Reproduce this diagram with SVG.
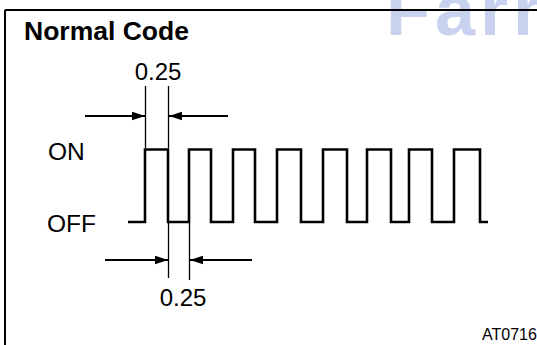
<svg xmlns="http://www.w3.org/2000/svg" width="537" height="345" viewBox="0 0 537 345">
<defs>
<marker id="ah" viewBox="0 0 12 8" refX="12" refY="4" markerWidth="13" markerHeight="9" markerUnits="userSpaceOnUse" orient="auto">
<path d="M0,0 L12,4 L0,8 Z" fill="#000"/>
</marker>
</defs>
<style>
.t{font-family:"Liberation Sans",Arial,sans-serif;fill:#000}
.dim{stroke:#000;stroke-width:1.3;fill:none}
.arr{stroke:#000;stroke-width:1.8;fill:none}
.wave{stroke:#000;stroke-width:2.6;fill:none;stroke-linejoin:miter}
</style>
<rect width="537" height="345" fill="#fff"/>
<text x="386" y="35" font-family="Liberation Sans,Arial,sans-serif" font-weight="bold" font-size="72" letter-spacing="5" fill="#c8d2ee">Farr</text>
<g id="frame">
<path d="M5,10 H537 M5,10 V345" stroke="#000" stroke-width="2" fill="none"/>
</g>
<g id="title"><text class="t" x="24" y="40" font-size="26.5" font-weight="bold">Normal Code</text></g>
<g id="on-label"><text class="t" x="48" y="160" font-size="24.5">ON</text></g>
<g id="off-label"><text class="t" x="47" y="232" font-size="24.5">OFF</text></g>
<g id="waveform">
<path class="wave" d="M128,222 H145 V149.5 H168 V222 H189 V149.5 H211 V222 H233 V149.5 H255 V222 H277 V149.5 H301 V222 H323 V149.5 H347 V222 H367 V149.5 H391 V222 H409 V149.5 H432 V222 H454 V149.5 H480 V222 H488"/>
</g>
<g id="dim-top">
<path class="dim" d="M145.5,86 V148 M168.5,86 V148"/>
<text class="t" x="158" y="80" font-size="24" text-anchor="middle">0.25</text>
</g>
<g id="dim-bottom">
<path class="dim" d="M168.5,223 V278 M189.5,223 V280"/>
<text class="t" x="183" y="306" font-size="24" text-anchor="middle">0.25</text>
</g>
<g id="connectors">
<line class="arr" x1="85" y1="116" x2="145" y2="116" marker-end="url(#ah)"/>
<line class="arr" x1="228" y1="116" x2="169" y2="116" marker-end="url(#ah)"/>
<line class="arr" x1="105" y1="260" x2="168" y2="260" marker-end="url(#ah)"/>
<line class="arr" x1="252" y1="260" x2="190" y2="260" marker-end="url(#ah)"/>
</g>
<g id="code"><text class="t" x="482" y="340" font-size="16">AT0716</text></g>
</svg>
